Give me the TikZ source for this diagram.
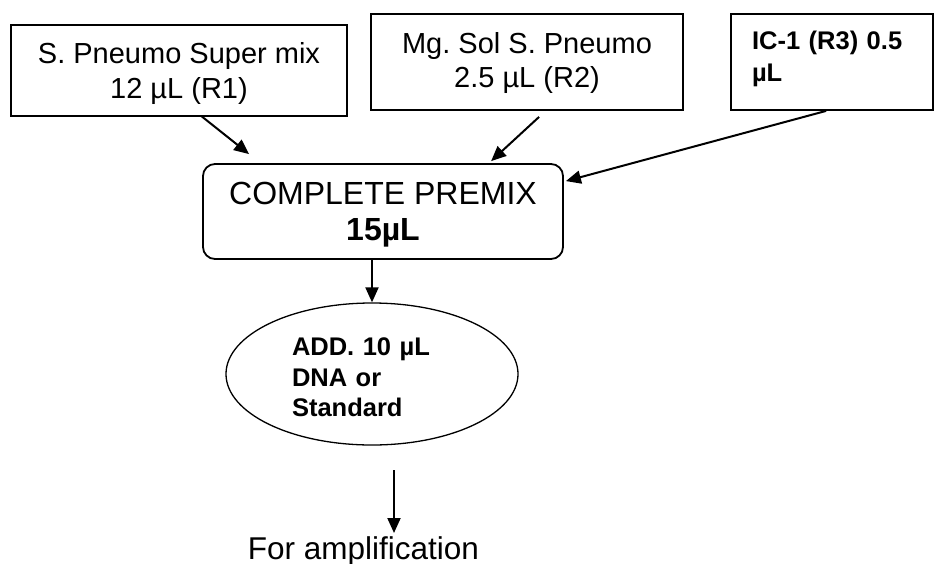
\documentclass[tikz,border=0pt]{standalone}
\usepackage{fontspec}
\setmainfont{Liberation Sans}
\usetikzlibrary{arrows.meta,shapes.geometric,calc}
\frenchspacing
\begin{document}
\begin{tikzpicture}[x=1pt,y=-1pt,
  box/.style={draw,line width=1.8pt,inner sep=0pt,align=center},
  arr/.style={line width=2pt,-{Triangle[length=15pt,width=13pt]}},
  regtxt/.style={font=\fontsize{29}{35}\selectfont\frenchspacing},
  boldtxt/.style={font=\fontsize{25.5}{32}\selectfont\bfseries\frenchspacing}]
\useasboundingbox (0,0) rectangle (934,563);
\node[box,regtxt,minimum width=336pt,minimum height=91pt,text depth=1pt] (b1) at (179,70.5)
  {S. Pneumo Super mix\\12 µL (R1)};
\node[box,font=\fontsize{29}{34}\selectfont\frenchspacing,minimum width=312pt,minimum height=96pt,text depth=5pt] (b2) at (527,62)
  {Mg. Sol S. Pneumo\\2.5 µL (R2)};
\node[box,boldtxt,align=left,text width=160pt,minimum width=202pt,minimum height=96pt,text depth=42.5pt] (b3) at (832,62)
  {IC-1 (R3) 0.5\\µL};
\node[box,rounded corners=12pt,font=\fontsize{32}{36}\selectfont,minimum width=360pt,minimum height=95pt,text depth=-4pt] (pm) at (383,211.5)
  {COMPLETE PREMIX\\\textbf{15µL}};
\node[draw,ellipse,line width=1.3pt,inner sep=0pt,font=\fontsize{25.5}{30.5}\selectfont\bfseries\frenchspacing,align=left,text width=160pt,minimum width=292pt,minimum height=142pt,text depth=54.5pt] (ell) at (372,374)
  {ADD. 10 µL\\DNA or\\Standard};
\node[anchor=base,inner sep=0pt,font=\fontsize{31.5}{36}\selectfont] (amp) at (363.5,559) {For amplification};
\draw[arr] ($(b1.south west)+(191,-1)$) -- ($(pm.north west)+(47,-9)$);
\draw[arr] ($(b2.south west)+(169,6)$) -- ($(pm.north west)+(289,-2)$);
\draw[arr] ($(b3.south west)+(96,0)$) -- ($(pm.north east)+(2,18)$);
\draw[arr] (ell.north |- pm.south) -- (ell.north);
\coordinate (a5s) at (394,470);
\coordinate (a5e) at (394,533);
\draw[arr] (a5s) -- (a5e);
\end{tikzpicture}
\end{document}
